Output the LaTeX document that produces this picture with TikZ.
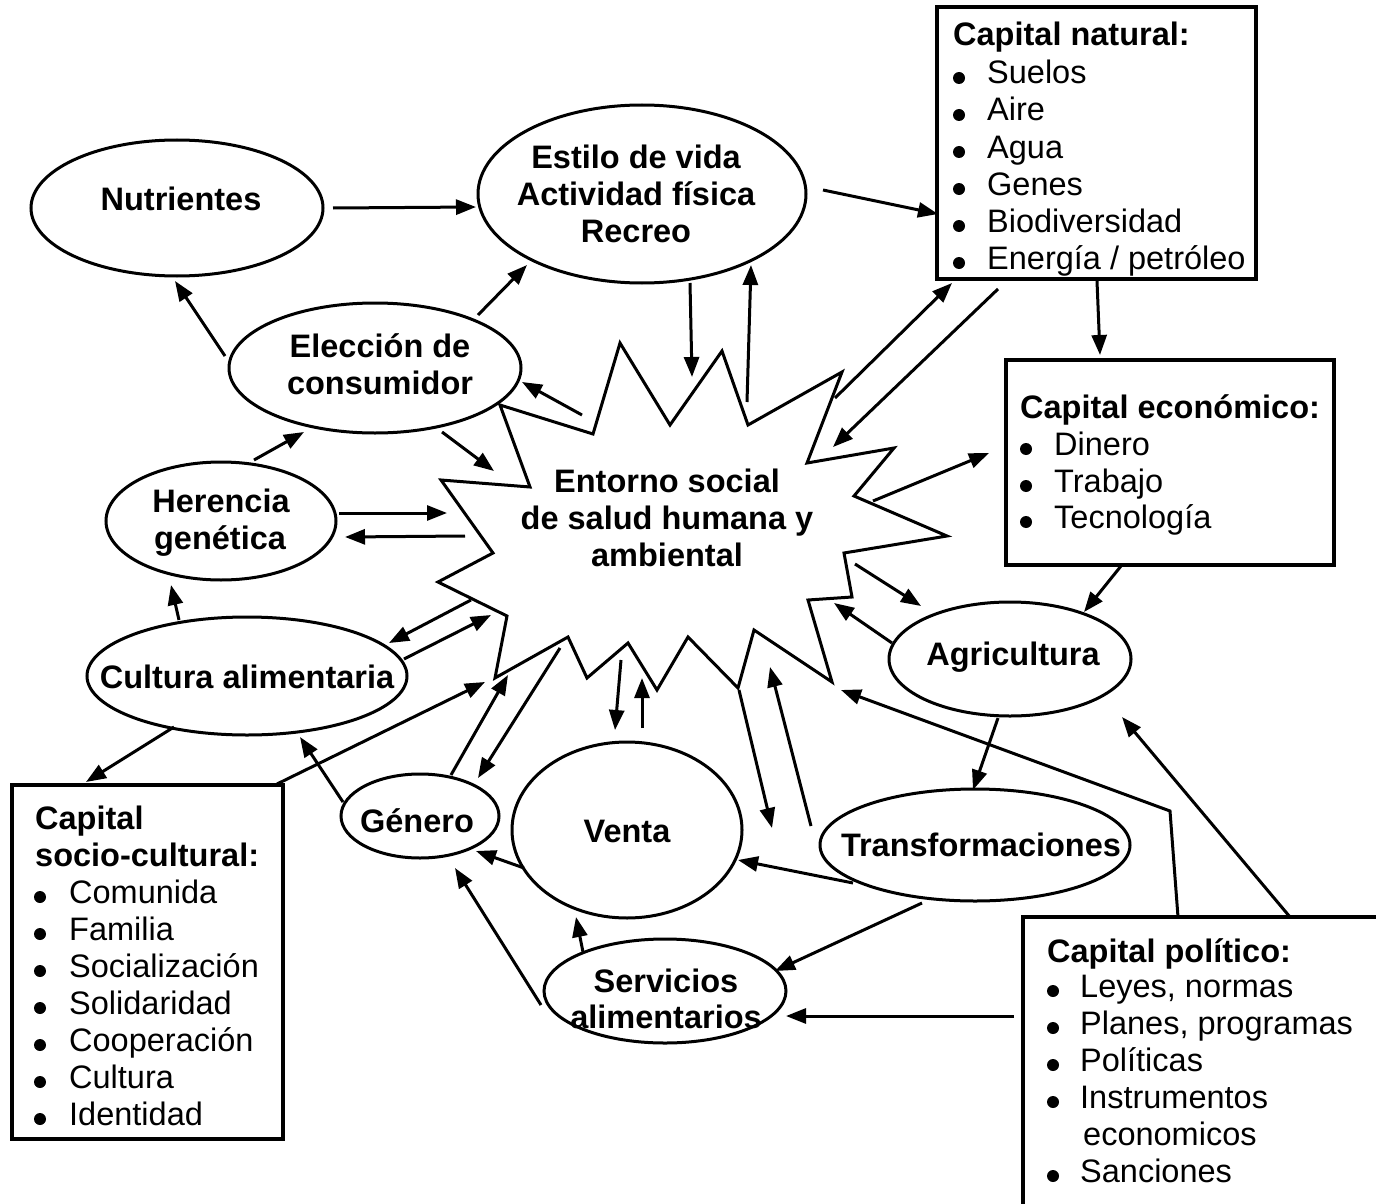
\documentclass[tikz,border=0pt]{standalone}
\usepackage{fontspec}
\setmainfont{Liberation Sans}
\usetikzlibrary{shapes.geometric,arrows.meta,calc}
\newcommand\mybul[2]{\fill (#1,#2) circle[radius=6];}
\begin{document}
\fontsize{32.5}{37}\selectfont
\begin{tikzpicture}[x=1pt,y=-1pt,
  ell/.style={ellipse, draw, line width=3pt, inner sep=0pt, outer sep=0pt, fill=white},
  box/.style={rectangle, draw, line width=3.5pt, inner sep=0pt, outer sep=0pt, anchor=north west},
  arr/.style={line width=3pt, -{Triangle[length=20pt,width=15pt]}},
  lbl/.style={font=\bfseries, anchor=base, inner sep=0pt},
  hd/.style={font=\bfseries, anchor=base west, inner sep=0pt},
  itm/.style={anchor=base west, inner sep=0pt}]
\useasboundingbox (0,0) rectangle (1376,1204);
\clip (0,0) rectangle (1376,1204);
\fill[white] (0,0) rectangle (1376,1204);

% starburst
\draw[line width=3pt, fill=white, line join=miter]
 (620,343) -- (670,425) -- (722,351) -- (748,425) -- (842,372) -- (807,463)
 -- (894,448) -- (854,496) -- (947,536) -- (844,553) -- (852,597) -- (808,600)
 -- (832,682) -- (754,630) -- (738,688) -- (688,637) -- (657,690) -- (628,643)
 -- (587,678) -- (568,637) -- (495,678) -- (507,616) -- (438,582) -- (493,553)
 -- (441,480) -- (530,487) -- (500,405) -- (593,434) -- cycle;
\coordinate (ent) at (667,518);
\node[lbl] (ent1) at (667,492) {Entorno social};
\node[lbl] (ent2) at (667,529) {de salud humana y};
\node[lbl] (ent3) at (667,566) {ambiental};

% ellipses
\node[ell, minimum width=292, minimum height=136] (nut) at (177,208) {};
\node[ell, minimum width=328, minimum height=178] (est) at (642,194) {};
\node[ell, minimum width=292, minimum height=130] (ele) at (375,368) {};
\node[ell, minimum width=230, minimum height=118] (her) at (221,521) {};
\node[ell, minimum width=320, minimum height=118] (cul) at (247,676) {};
\node[ell, minimum width=158, minimum height=84] (gen) at (420,816) {};
\node[ell, minimum width=230, minimum height=176] (ven) at (627,830) {};
\node[ell, minimum width=242, minimum height=104] (ser) at (665,991) {};
\node[ell, minimum width=242, minimum height=114] (agr) at (1010,659) {};
\node[ell, minimum width=310, minimum height=112] (tra) at (975,845) {};

\node[lbl] (nutt) at (181,210) {Nutrientes};
\node[lbl] (est1) at (636,168) {Estilo de vida};
\node[lbl] (est2) at (636,205) {Actividad física};
\node[lbl] (est3) at (636,242) {Recreo};
\node[lbl] (ele1) at (380,357) {Elección de};
\node[lbl] (ele2) at (380,394) {consumidor};
\node[lbl] (her1) at (221,512) {Herencia};
\node[lbl] (her2) at (220,549) {genética};
\node[lbl] (cult) at (247,688) {Cultura alimentaria};
\node[lbl] (gent) at (417,832) {Género};
\node[lbl] (vent) at (627,842) {Venta};
\node[lbl] (ser1) at (666,992) {Servicios};
\node[lbl] (ser2) at (666,1028) {alimentarios};
\node[lbl] (agrt) at (1013,665) {Agricultura};
\node[lbl] (trat) at (981,856) {Transformaciones};

% boxes
\node[box, minimum width=319, minimum height=272] (nat) at (937,7) {};
\node[box, minimum width=328, minimum height=205] (eco) at (1006,360) {};
\node[box, minimum width=271, minimum height=354] (soc) at (12,785) {};
\node[box, minimum width=400, minimum height=400] (pol) at (1023,917) {};

% capital natural text
\node[hd] (nath) at (953,46) {Capital natural:};
\node[itm] (nat1) at (987,84) {Suelos};
\node[itm] (nat2) at (987,121) {Aire};
\node[itm] (nat3) at (987,158) {Agua};
\node[itm] (nat4) at (987,195) {Genes};
\node[itm] (nat5) at (987,232) {Biodiversidad};
\node[itm] (nat6) at (987,269) {Energía / petróleo};
\mybul{959}{78}\mybul{959}{115}\mybul{959}{152}\mybul{959}{189}\mybul{959}{226}\mybul{959}{263}

% capital economico text
\node[hd] (ecoh) at (1020,418) {Capital económico:};
\node[itm] (eco1) at (1054,455) {Dinero};
\node[itm] (eco2) at (1054,492) {Trabajo};
\node[itm] (eco3) at (1054,528) {Tecnología};
\mybul{1026}{449}\mybul{1026}{486}\mybul{1026}{522}

% capital socio-cultural text
\node[hd] (soch1) at (35,829) {Capital};
\node[hd] (soch2) at (35,866) {socio-cultural:};
\node[itm] (soc1) at (69,903) {Comunida};
\node[itm] (soc2) at (69,940) {Familia};
\node[itm] (soc3) at (69,977) {Socialización};
\node[itm] (soc4) at (69,1014) {Solidaridad};
\node[itm] (soc5) at (69,1051) {Cooperación};
\node[itm] (soc6) at (69,1088) {Cultura};
\node[itm] (soc7) at (69,1125) {Identidad};
\mybul{40}{897}\mybul{40}{934}\mybul{40}{971}\mybul{40}{1008}\mybul{40}{1045}\mybul{40}{1082}\mybul{40}{1119}

% capital politico text
\node[hd] (polh) at (1047,962) {Capital político:};
\node[itm] (pol1) at (1080,997) {Leyes, normas};
\node[itm] (pol2) at (1080,1034) {Planes, programas};
\node[itm] (pol3) at (1080,1071) {Políticas};
\node[itm] (pol4) at (1080,1108) {Instrumentos};
\node[itm] (pol5) at (1083,1145) {economicos};
\node[itm] (pol6) at (1080,1182) {Sanciones};
\mybul{1053}{991}\mybul{1053}{1028}\mybul{1053}{1065}\mybul{1053}{1102}\mybul{1053}{1176}

% free coordinates
\coordinate (polbend) at (1170,811);
\coordinate (vtgap) at (772,828);

% connectors
\draw[arr] ($(nut)+(156,0)$) -- ($(est)+(-166,13)$);
\draw[arr] ($(est)+(181,-4)$) -- ($(nat.north west)+(1,207)$);
\draw[arr] ($(ele)+(-150,-12)$) -- ($(nut)+(-2,73)$);
\draw[arr] ($(ele)+(103,-53)$) -- ($(est)+(-115,71)$);
\draw[arr] ($(ent)+(-85,-103)$) -- ($(ele)+(147,14)$);
\draw[arr] ($(ele)+(67,64)$) -- ($(ent)+(-173,-47)$);
\draw[arr] ($(est)+(48,89)$) -- ($(ent)+(25,-141)$);
\draw[arr] ($(ent)+(80,-116)$) -- ($(est)+(109,71)$);
\draw[arr] ($(ent)+(168,-120)$) -- ($(nat.north west)+(15,276)$);
\draw[arr] ($(nat.north west)+(61,282)$) -- ($(ent)+(166,-71)$);
\draw[arr] ($(nat.north west)+(160,274)$) -- ($(eco.north west)+(94,-5)$);
\draw[arr] ($(ent)+(206,-17)$) -- ($(eco.north west)+(-17,93)$);
\draw[arr] ($(eco.north west)+(115,206)$) -- ($(agr)+(74,-47)$);
\draw[arr] ($(ent)+(188,46)$) -- ($(agr)+(-89,-53)$);
\draw[arr] ($(agr)+(-118,-16)$) -- ($(ent)+(167,85)$);
\draw[arr] ($(agr)+(-12,59)$) -- ($(tra)+(-2,-55)$);
\draw[arr, line join=miter] ($(pol.north west)+(155,0)$) -- (polbend) -- ($(ent)+(174,172)$);
\draw[arr] ($(pol.north west)+(267,0)$) -- ($(agr)+(112,58)$);
\draw[arr] ($(tra)+(-122,38)$) -- ($(ven)+(111,30)$);
\draw[arr] ($(tra)+(-53,58)$) -- ($(ser)+(110,-20)$);
\draw[arr] ($(pol.north west)+(-9,99)$) -- ($(ser)+(121,25)$);
\draw[arr] ($(ser)+(-82,-39)$) -- ($(ven)+(-51,87)$);
\draw[arr] ($(ser)+(-124,14)$) -- ($(gen)+(35,52)$);
\draw[arr] ($(ven)+(-103,38)$) -- ($(gen)+(56,35)$);
\draw[arr] ($(ent)+(-46,142)$) -- ($(ven)+(-12,-100)$);
\draw[arr] ($(ven)+(15,-102)$) -- ($(ent)+(-25,160)$);
\draw[arr] ($(ent)+(72,172)$) -- (vtgap);
\draw[arr] ($(tra)+(-164,-19)$) -- ($(ent)+(103,149)$);
\draw[arr] ($(gen)+(31,-41)$) -- ($(ent)+(-159,157)$);
\draw[arr] ($(ent)+(-107,130)$) -- ($(gen)+(58,-38)$);
\draw[arr] ($(soc.north east)+(-6,-1)$) -- ($(ent)+(-182,164)$);
\draw[arr] ($(cul)+(-73,51)$) -- ($(soc.north west)+(74,-3)$);
\draw[arr] ($(cul)+(-68,-56)$) -- ($(her)+(-50,64)$);
\draw[arr] ($(gen)+(-77,-14)$) -- ($(cul)+(53,61)$);
\draw[arr] ($(ent)+(-196,82)$) -- ($(cul)+(142,-33)$);
\draw[arr] ($(cul)+(157,-17)$) -- ($(ent)+(-176,97)$);
\draw[arr] ($(her)+(118,-8)$) -- ($(ent)+(-220,-5)$);
\draw[arr] ($(ent)+(-202,18)$) -- ($(her)+(124,16)$);
\draw[arr] ($(her)+(33,-61)$) -- ($(ele)+(-71,64)$);
\end{tikzpicture}
\end{document}
